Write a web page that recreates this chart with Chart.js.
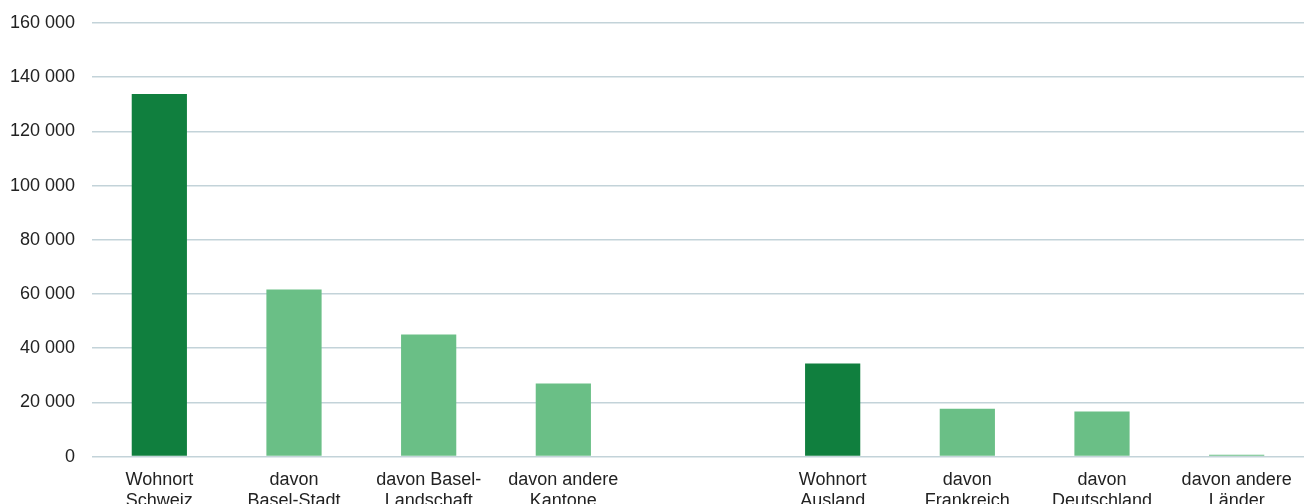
<!DOCTYPE html>
<html>
<head>
<meta charset="utf-8">
<script src="https://cdn.jsdelivr.net/npm/chart.js@4/dist/chart.umd.min.js"></script>
<style>
  html, body { margin: 0; padding: 0; background: #fff; overflow: hidden; }
  #wrap { position: relative; width: 1304px; height: 516px; }
</style>
</head>
<body>
<div id="wrap"><canvas id="chart"></canvas></div>
<script>
// Grenzgänger / Beschäftigte nach Wohnort
const categories = [
  ['Wohnort', 'Schweiz'],
  ['davon', 'Basel-Stadt'],
  ['davon Basel-', 'Landschaft'],
  ['davon andere', 'Kantone'],
  '',
  ['Wohnort', 'Ausland'],
  ['davon', 'Frankreich'],
  ['davon', 'Deutschland'],
  ['davon andere', 'Länder']
];
const values = [133800, 61700, 45100, 27000, null, 34400, 17700, 16600, 700];
const isTotal = [true, false, false, false, false, true, false, false, false];
const yTicks = [0, 20000, 40000, 60000, 80000, 100000, 120000, 140000, 160000];

const DARK = '#107f3e';
const LIGHT = '#6abf86';
const GRID = '#c3d3d9';

function fmt(v) {
  return String(v).replace(/\B(?=(\d{3})+(?!\d))/g, ' ');
}

window.onload = function () {
  const ctx = document.getElementById('chart');
  new Chart(ctx, {
    type: 'bar',
    data: {
      labels: categories,
      datasets: [{
        data: values,
        backgroundColor: isTotal.map((t) => (t ? DARK : LIGHT)),
        barPercentage: 0.41,
        categoryPercentage: 1
      }]
    },
    options: {
      responsive: true,
      maintainAspectRatio: false,
      animation: false,
      layout: { padding: { top: 23, right: 0, left: 0, bottom: 0 } },
      plugins: { legend: { display: false }, tooltip: { enabled: false } },
      scales: {
        x: {
          grid: { display: false },
          border: { display: false },
          ticks: {
            color: '#222',
            font: { family: 'Liberation Sans, Arial, sans-serif', size: 18, lineHeight: 1.15 },
            maxRotation: 0,
            autoSkip: false,
            padding: 5
          }
        },
        y: {
          min: 0,
          max: 160000,
          afterBuildTicks: (axis) => { axis.ticks = yTicks.map((v) => ({ value: v })); },
          afterFit: (axis) => {
            axis.width = 92;
            axis.paddingTop = 0;
            axis.paddingBottom = 0;
          },
          grid: { color: GRID, lineWidth: 1.5, drawTicks: false },
          border: { display: false },
          ticks: {
            color: '#222',
            font: { family: 'Liberation Sans, Arial, sans-serif', size: 18 },
            padding: 17,
            callback: (v) => fmt(v)
          }
        }
      }
    }
  });
};
</script>
</body>
</html>
